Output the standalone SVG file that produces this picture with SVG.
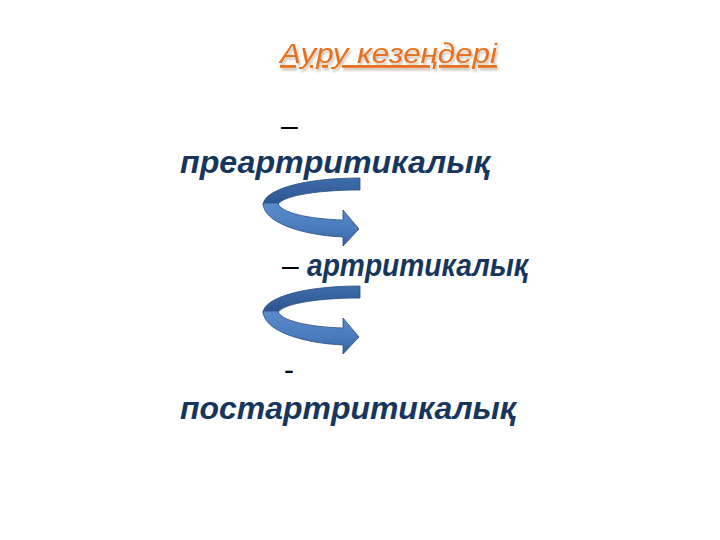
<svg xmlns="http://www.w3.org/2000/svg" width="720" height="540" viewBox="0 0 720 540">
<defs>
<style>
.t{font-family:"Liberation Sans",Arial,sans-serif;font-weight:bold;font-style:italic;fill:#17365D;font-size:32px}
.d{font-family:"Liberation Sans",Arial,sans-serif;fill:#000;font-size:30px}
.title{font-family:"Liberation Sans",Arial,sans-serif;font-style:italic;font-size:28px;text-decoration:underline}
.back{fill:url(#gb);stroke:#2C4F80;stroke-width:0.8}
.front{fill:url(#gf);stroke:#2C4F80;stroke-width:0.8}
</style>
<filter id="sh" x="-10%" y="-20%" width="120%" height="160%">
<feDropShadow dx="1.5" dy="2.5" stdDeviation="1" flood-color="#A08A70" flood-opacity="0.55"/>
</filter>
<linearGradient id="gb" x1="0" y1="0" x2="0" y2="1">
<stop offset="0" stop-color="#3E6CAB"/>
<stop offset="1" stop-color="#2B558F"/>
</linearGradient>
<linearGradient id="gf" x1="0" y1="0" x2="0" y2="1">
<stop offset="0" stop-color="#5A8BCB"/>
<stop offset="0.6" stop-color="#4A7BBC"/>
<stop offset="1" stop-color="#3663A0"/>
</linearGradient>
<g id="uarrow">
<path class="back" d="M360 178 C305 178 264 189 263 205 L278 205 C280 197 312 190 360 190 Z"/>
<path class="front" d="M263 203 C263 222 300 235 343 237 L343 246 L359 229 L343 210 L343 220 C310 219 280 213 278 203 Z"/>
</g>
</defs>
<rect width="720" height="540" fill="#fff"/>
<g id="title">
<text class="title" x="280" y="63" fill="#E8721C" filter="url(#sh)" textLength="217" lengthAdjust="spacingAndGlyphs">Ауру кезеңдері</text>
</g>
<g id="stage1">
<text class="d" x="281" y="136">–</text>
<text class="t" x="180" y="173" textLength="310" lengthAdjust="spacingAndGlyphs">преартритикалық</text>
</g>
<g id="stage2">
<text class="d" x="282" y="276">–</text>
<text class="t" x="307" y="276" textLength="221" lengthAdjust="spacingAndGlyphs">артритикалық</text>
</g>
<g id="stage3">
<text class="d" x="284" y="380">-</text>
<text class="t" x="180" y="419" textLength="336" lengthAdjust="spacingAndGlyphs">постартритикалық</text>
</g>
<g id="connectors">
<use href="#uarrow"/>
<use href="#uarrow" transform="translate(0,108)"/>
</g>
</svg>
